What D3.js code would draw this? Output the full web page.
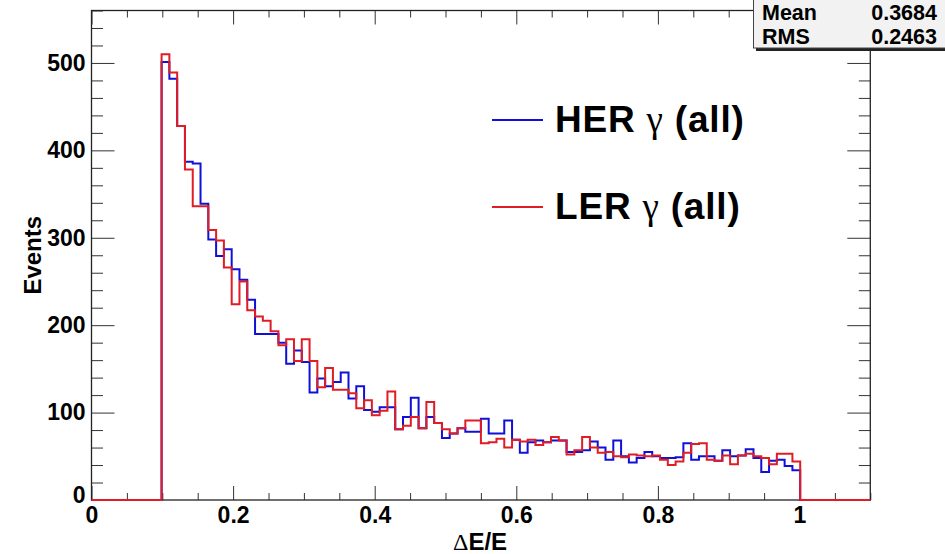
<!DOCTYPE html>
<html>
<head>
<meta charset="utf-8">
<script src="https://cdn.jsdelivr.net/npm/d3@7"></script>
<style>
  body { margin: 0; background: #fff; }
  text { font-family: "Liberation Sans", Arial, Helvetica, sans-serif; font-weight: bold; fill: #000; }
</style>
</head>
<body>
<svg id="chart" width="945" height="554"></svg>
<script>
// histogram binning (100 bins from 0 to 1.1, filled bins start at bin 9)
var nBins = 100, xMin = 0, xMax = 1.1, firstBin = 9;

// bin contents, bins 9..90
var herCounts = [501, 482, 428, 387, 385, 339, 298, 279, 287, 264,
  252, 229, 190, 190, 190, 180, 156, 171, 158, 123,
  139, 130, 135, 146, 116, 130, 103, 101, 106, 106,
  81, 95, 117, 82, 95, 88, 71, 76, 82, 78,
  78, 93, 76, 76, 91, 69, 54, 66, 68, 66,
  68, 68, 55, 55, 57, 67, 60, 46, 68, 50,
  43, 48, 55, 50, 48, 48, 49, 65, 46, 50,
  50, 45, 57, 50, 51, 58, 48, 32, 45, 46,
  39, 34];
var lerCounts = [510, 489, 428, 378, 336, 336, 309, 297, 266, 224,
  250, 217, 210, 205, 193, 177, 184, 159, 184, 159,
  129, 151, 126, 126, 122, 105, 114, 97, 102, 124,
  81, 85, 95, 82, 112, 88, 81, 76, 82, 91,
  91, 65, 66, 70, 60, 69, 67, 69, 63, 66,
  72, 68, 52, 57, 72, 60, 54, 55, 50, 49,
  52, 51, 50, 51, 46, 40, 44, 54, 64, 65,
  46, 45, 51, 41, 51, 53, 50, 48, 41, 53,
  53, 44];

var xTicks = [0, 0.2, 0.4, 0.6, 0.8, 1];
var yTicks = [0, 100, 200, 300, 400, 500];
var statNames = ["Mean", "RMS"];
var statValues = ["0.3684", "0.2463"];
var legendNames = ["HER", "LER"];
var legendColors = ["#1010d8", "#e01c24"];

var svg = d3.select("#chart");
var frameL = 91.5, frameR = 870.3, frameT = 10.5, frameB = 500;

var x = d3.scaleLinear().domain([xMin, xMax]).range([frameL, frameR]);
var y = d3.scaleLinear().domain([0, 560]).range([frameB, frameT]);

// full bin arrays with empty bins
function fullBins(counts) {
  var arr = [];
  for (var i = 0; i < nBins; i++) {
    var j = i - firstBin;
    arr.push(j >= 0 && j < counts.length ? counts[j] : 0);
  }
  return arr;
}

// step outline like a ROOT histogram
function stepPoints(vals) {
  var w = (xMax - xMin) / nBins, pts = [];
  vals.forEach(function(v, i) {
    pts.push([xMin + i * w, v]);
    pts.push([xMin + (i + 1) * w, v]);
  });
  return pts;
}

var line = d3.line()
  .x(function(d) { return x(d[0]); })
  .y(function(d) { return y(d[1]); });

// axes with ticks drawn inwards
var xMinor = d3.range(0, 1.1001, 0.05).filter(function(v) { return Math.abs(v * 5 - Math.round(v * 5)) > 1e-6; });
var yMinor = d3.range(0, 561, 20).filter(function(v) { return v % 100 !== 0; });

function tickAxis(axis, transform) {
  var g = svg.append("g").attr("transform", transform).call(axis);
  g.select(".domain").remove();
  g.selectAll("line").attr("stroke", "#333").attr("stroke-width", 1);
  return g;
}

var gx = tickAxis(d3.axisBottom(x).tickValues(xTicks).tickSize(-14).tickPadding(7)
  .tickFormat(function(d) { return d === 0 || d === 1 ? d3.format("d")(d) : d3.format(".1f")(d); }),
  "translate(0," + frameB + ")");
gx.selectAll("text").style("font-size", "23px");
tickAxis(d3.axisBottom(x).tickValues(xMinor).tickSize(-7).tickFormat(""), "translate(0," + frameB + ")");
tickAxis(d3.axisTop(x).tickValues(xTicks).tickSize(-14).tickFormat(""), "translate(0," + frameT + ")");
tickAxis(d3.axisTop(x).tickValues(xMinor).tickSize(-7).tickFormat(""), "translate(0," + frameT + ")");

var gy = tickAxis(d3.axisLeft(y).tickValues(yTicks).tickSize(-23).tickPadding(6), "translate(" + frameL + ",0)");
gy.selectAll("text").style("font-size", "23px");
gy.selectAll(".tick").filter(function(d) { return d === 0; }).select("text").attr("dy", "0.1em");
tickAxis(d3.axisLeft(y).tickValues(yMinor).tickSize(-11.5).tickFormat(""), "translate(" + frameL + ",0)");
tickAxis(d3.axisRight(y).tickValues(yTicks).tickSize(-23).tickFormat(""), "translate(" + frameR + ",0)");
tickAxis(d3.axisRight(y).tickValues(yMinor).tickSize(-11.5).tickFormat(""), "translate(" + frameR + ",0)");

// frame
svg.append("rect")
  .attr("x", frameL).attr("y", frameT)
  .attr("width", frameR - frameL).attr("height", frameB - frameT)
  .attr("fill", "none").attr("stroke", "#222").attr("stroke-width", 1.3);

// histograms: HER first, LER on top
[herCounts, lerCounts].forEach(function(counts, k) {
  svg.append("path")
    .attr("d", line(stepPoints(fullBins(counts))))
    .attr("fill", "none")
    .attr("stroke", legendColors[k])
    .attr("stroke-width", 2);
});

// axis titles
svg.append("text")
  .attr("transform", "translate(41," + ((frameT + frameB) / 2) + ") rotate(-90)")
  .attr("text-anchor", "middle")
  .style("font-size", "24px")
  .text("Events");

var xt = svg.append("text")
  .attr("x", 480).attr("y", 550)
  .attr("text-anchor", "middle")
  .style("font-size", "24px");
xt.append("tspan").style("font-family", "'Liberation Serif', serif").style("font-weight", "normal").text("\u0394");
xt.append("tspan").text("E/E");

// legend
legendNames.forEach(function(name, i) {
  var ly = 120 + i * 87;
  svg.append("line")
    .attr("x1", 492).attr("x2", 543).attr("y1", ly).attr("y2", ly)
    .attr("stroke", legendColors[i]).attr("stroke-width", 2);
  var t = svg.append("text")
    .attr("x", 555).attr("y", ly + 12)
    .style("font-size", "37px")
    .style("letter-spacing", "0.8px");
  t.append("tspan").text(name + " ");
  t.append("tspan").style("font-family", "'Liberation Serif', serif").style("font-weight", "normal").text("\u03b3");
  t.append("tspan").text(" (all)");
});

// stats box (cut off at the top right)
svg.append("rect")
  .attr("x", 756).attr("y", -10).attr("width", 200).attr("height", 61)
  .attr("fill", "#222");
svg.append("rect")
  .attr("x", 753.5).attr("y", -10).attr("width", 200).attr("height", 58)
  .attr("fill", "#f2f2f2").attr("stroke", "#444").attr("stroke-width", 1);
statNames.forEach(function(name, i) {
  svg.append("text").attr("x", 762).attr("y", 20 + i * 24)
    .style("font-size", "21.5px").text(name);
  svg.append("text").attr("x", 937).attr("y", 20 + i * 24)
    .attr("text-anchor", "end")
    .style("font-size", "21.5px").text(statValues[i]);
});
</script>
</body>
</html>
